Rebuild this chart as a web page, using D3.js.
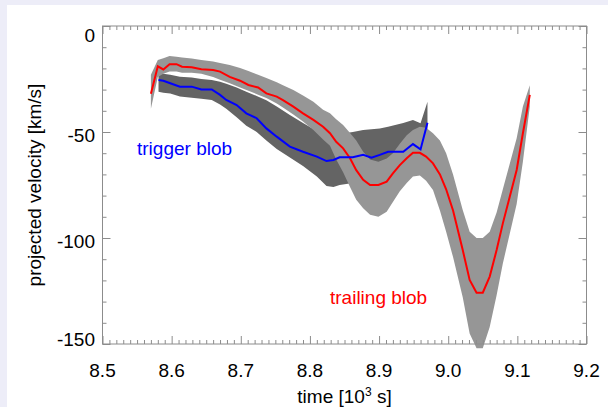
<!DOCTYPE html>
<html><head><meta charset="utf-8">
<script src="https://cdn.jsdelivr.net/npm/d3@7"></script>
<style>
html,body{margin:0;padding:0;background:#ededf8;}
svg{display:block;font-family:"Liberation Sans",Arial,Helvetica,sans-serif;}
</style></head>
<body>
<svg id="chart" width="608" height="407"></svg>
<script>
// ---- data (time in 10^3 s, projected velocity in km/s) ----
const trailTime = [8.570,8.580,8.588,8.597,8.607,8.615,8.629,8.643,8.660,8.670,8.684,8.699,8.711,8.725,8.737,8.752,8.761,8.776,8.790,8.805,8.819,8.829,8.838,8.848,8.858,8.867,8.877,8.887,8.899,8.911,8.920,8.930,8.940,8.949,8.959,8.968,8.978,8.988,8.997,9.007,9.021,9.031,9.041,9.050,9.060,9.070,9.079,9.089,9.099,9.108,9.118];
const trailVel = [-32,-19,-20.5,-18,-18,-19.2,-19.5,-20.4,-20.8,-21.5,-24,-25.8,-27.8,-29,-31.8,-33.3,-35,-38,-41.2,-44.3,-47.5,-50.6,-54.6,-57.7,-62.4,-68,-72.6,-75,-75,-73.4,-69.5,-65.6,-62.4,-59.8,-59.8,-61.6,-64.8,-70,-77,-87,-105.7,-119.8,-125.8,-125.8,-118.2,-105.7,-93.1,-80.5,-67.9,-50.6,-32.5];
const trailUpper = [-23,-16,-15.2,-14.2,-14.5,-14.8,-15.3,-16,-16.8,-17.5,-18.4,-19.8,-21.2,-23,-24.5,-26.5,-28,-30.2,-32.8,-35.7,-39.5,-41.2,-44,-46.7,-50.5,-54,-59.3,-63,-64,-62.5,-60,-55.5,-51.5,-49,-47.5,-48,-50.6,-54,-60,-70,-86.8,-97,-100,-100,-97,-88,-77,-65,-53,-38,-28];
const trailLower = [-39,-24,-22.5,-21.5,-21.5,-22,-22,-22.5,-24,-25.3,-27,-29,-30.6,-32.4,-34,-36.6,-38.5,-41.7,-45,-49,-53.5,-56.5,-63,-69,-76,-82,-86,-89,-90,-87.6,-83,-78,-74,-71,-70.5,-73,-77.4,-87,-97,-109,-128,-145,-152,-152,-142,-127,-112,-98,-84,-64,-38];

const trigTime = [8.581,8.588,8.598,8.612,8.629,8.643,8.658,8.670,8.679,8.694,8.708,8.723,8.737,8.752,8.771,8.790,8.810,8.824,8.834,8.843,8.862,8.877,8.889,8.901,8.913,8.935,8.949,8.960,8.970];
const trigVel = [-25.5,-25.8,-27,-28.6,-28.6,-29.9,-29.9,-32.5,-34.9,-37.3,-41.2,-43.5,-48.3,-52.2,-56.9,-59.3,-61.6,-63.7,-63.2,-61.9,-61.9,-60.8,-62.1,-60.8,-59.3,-59.3,-55.7,-58.2,-45.6];
const trigUpper = [-22.5,-22.5,-23,-23.9,-24.3,-25,-25.5,-26.3,-27.2,-29,-31,-33,-35,-38,-42,-45.8,-49.5,-51.5,-52,-51,-50,-49,-48.7,-48.3,-47.5,-45.8,-44.3,-45.9,-35.7];
const trigLower = [-31,-31.5,-31.8,-33.3,-33.8,-34.3,-34.9,-37,-39,-43,-47,-50,-54,-58,-62,-66,-71,-75.5,-76,-75,-74,-73,-73,-72,-71,-70,-68,-70,-58];

const xTickLabels = ["8.5","8.6","8.7","8.8","8.9","9.0","9.1","9.2"];
const yTickLabels = ["0","-50","-100","-150"];

// ---- layout ----
const svg = d3.select("#chart");
svg.append("rect").attr("x",7).attr("y",5).attr("width",601).attr("height",402).attr("fill","#ffffff");

const pLeft = 102.5, pRight = 586.5, pTop = 26, pBottom = 344;
const x = d3.scaleLinear().domain([8.5,9.2]).range([pLeft,pRight]);
const y = d3.scaleLinear().domain([0,-150]).range([pTop,pBottom]);

const band = (T,U,L) => d3.area().x((d,i)=>x(T[i])).y0((d,i)=>y(L[i])).y1((d,i)=>y(U[i]))(T);
const line = (T,V) => d3.line().x((d,i)=>x(T[i])).y((d,i)=>y(V[i]))(T);

svg.append("path").attr("d",band(trigTime,trigUpper,trigLower)).attr("fill","#646464");
svg.append("path").attr("d",band(trailTime,trailUpper,trailLower)).attr("fill","#969696");
svg.append("path").attr("d",line(trailTime,trailVel)).attr("fill","none").attr("stroke","#ff0000").attr("stroke-width",2);
svg.append("path").attr("d",line(trigTime,trigVel)).attr("fill","none").attr("stroke","#0000ff").attr("stroke-width",2);

// ---- axes (box with ticks on all sides) ----
const axisCol = "#8c8c8c";
const xMajor = xTickLabels.map(Number);
const xMinor = d3.range(0,71).map(i=>8.5+i*0.01).filter(v=>Math.abs(Math.round(v*10)-v*10)>1e-6);
const yMajor = yTickLabels.map(Number);
const yMinor = d3.range(0,16).map(i=>-i*10).filter(v=>v%50!==0);

function ticks(axisFn, scale, vals, size, transform){
  const g = svg.append("g").attr("transform",transform)
    .call(axisFn(scale).tickValues(vals).tickSize(size).tickFormat(""));
  g.select(".domain").remove();
  g.selectAll("line").attr("stroke",axisCol).attr("stroke-width",1);
  return g;
}
ticks(d3.axisBottom, x, xMajor, -8, `translate(0,${pBottom})`);
ticks(d3.axisBottom, x, xMinor, -4, `translate(0,${pBottom})`);
ticks(d3.axisTop, x, xMajor, -8, `translate(0,${pTop})`);
ticks(d3.axisTop, x, xMinor, -4, `translate(0,${pTop})`);
ticks(d3.axisLeft, y, yMajor, -8, `translate(${pLeft},0)`);
ticks(d3.axisLeft, y, yMinor, -4, `translate(${pLeft},0)`);
ticks(d3.axisRight, y, yMajor, -8, `translate(${pRight},0)`);
ticks(d3.axisRight, y, yMinor, -4, `translate(${pRight},0)`);

svg.append("rect").attr("x",pLeft).attr("y",pTop).attr("width",pRight-pLeft).attr("height",pBottom-pTop)
  .attr("fill","none").attr("stroke",axisCol).attr("stroke-width",1);

// tick labels
const fs = 19;
svg.append("g").selectAll("text").data(xTickLabels).join("text")
  .attr("x",d=>x(+d)).attr("y",377).attr("text-anchor","middle")
  .attr("font-size",fs).attr("fill","#000").text(d=>d);
svg.append("g").selectAll("text").data(yTickLabels).join("text")
  .attr("x",95).attr("y",d=>Math.min(339,Math.max(35,y(+d)+3))).attr("dy","0.36em")
  .attr("text-anchor","end").attr("font-size",fs).attr("fill","#000").text(d=>d);

// axis titles
const xt = svg.append("text").attr("x",(pLeft+pRight)/2).attr("y",403).attr("text-anchor","middle")
  .attr("font-size",fs).attr("fill","#000");
xt.append("tspan").text("time [10");
xt.append("tspan").attr("font-size",12).attr("dy",-7).text("3");
xt.append("tspan").attr("dy",7).text(" s]");

svg.append("text").attr("transform",`translate(41,${(pTop+pBottom)/2}) rotate(-90)`)
  .attr("text-anchor","middle").attr("font-size",fs).attr("fill","#000")
  .text("projected velocity [km/s]");

// series labels
svg.append("text").attr("x",137).attr("y",155).attr("font-size",fs).attr("fill","#0000ff").text("trigger blob");
svg.append("text").attr("x",330).attr("y",304).attr("font-size",fs).attr("fill","#ff0000").text("trailing blob");
</script>
</body></html>
